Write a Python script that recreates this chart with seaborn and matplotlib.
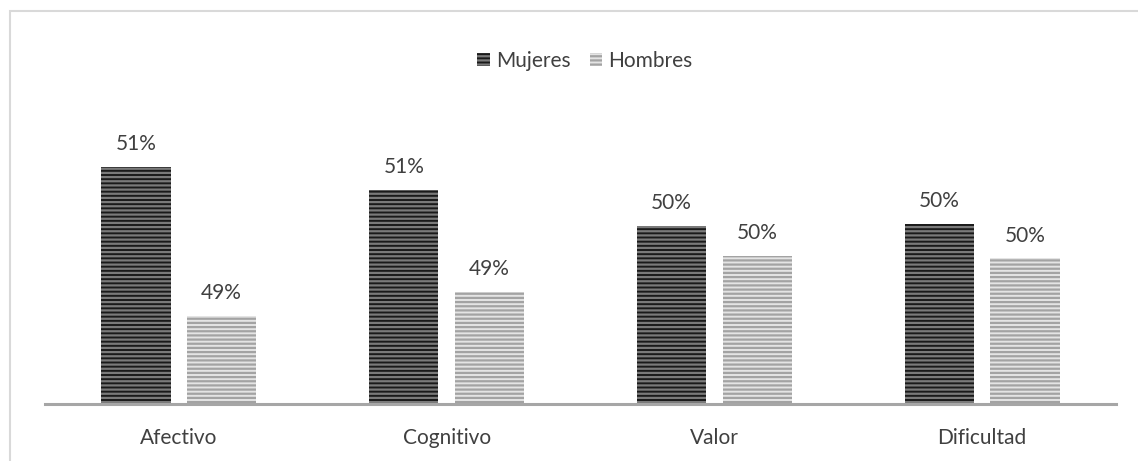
import matplotlib
matplotlib.use("Agg")
import matplotlib.pyplot as plt
from matplotlib.patches import Patch, Rectangle
import seaborn as sns
import pandas as pd

categories = ["Afectivo", "Cognitivo", "Valor", "Dificultad"]
mujeres = [50.91, 50.63, 50.19, 50.21]
hombres = [49.08, 49.38, 49.82, 49.79]
series_names = ["Mujeres", "Hombres"]

df = pd.DataFrame({
    "cat": categories * 2,
    "val": mujeres + hombres,
    "serie": [series_names[0]] * 4 + [series_names[1]] * 4,
})

sns.set_theme(style="white")
plt.rcParams["font.family"] = ["Lato", "DejaVu Sans"]
plt.rcParams["hatch.linewidth"] = 1.6

W, H = 1138, 461
fig = plt.figure(figsize=(W / 100, H / 100), dpi=100)
fig.patch.set_facecolor("white")
ax = fig.add_axes([45 / W, (H - 404) / H, (1116 - 45) / W, (404 - 100) / H])

face = {"Mujeres": "#1a1a1a", "Hombres": "#e4e4e4"}
hatchc = {"Mujeres": "#7a7a7a", "Hombres": "#a3a3a3"}
FS = 15

sns.barplot(data=df, x="cat", y="val", hue="serie", order=categories,
            hue_order=series_names, palette=face, width=0.64, gap=0.19,
            ax=ax, legend=False, saturation=1)

values = {"Mujeres": mujeres, "Hombres": hombres}
for name, cont in zip(series_names, ax.containers):
    for bar in cont:
        bar.set_facecolor(face[name])
        bar.set_edgecolor(hatchc[name])
        bar.set_hatch("----")
        bar.set_linewidth(0)
    ax.bar_label(cont, labels=[f"{round(v)}%" for v in values[name]],
                 padding=9, fontsize=FS, color="#404040")

ax.set_ylim(48, 51.73)
ax.set_xlim(-0.5, 3.5)
ax.set_xlabel("")
ax.set_ylabel("")
ax.set_yticks([])
for s in ["top", "right", "left"]:
    ax.spines[s].set_visible(False)
ax.spines["bottom"].set_color("#a6a6a6")
ax.spines["bottom"].set_linewidth(2.2)
ax.tick_params(axis="x", length=0, pad=17, labelsize=FS, labelcolor="#404040")

handles = [Patch(facecolor=face[n], edgecolor=hatchc[n], hatch="----", linewidth=0, label=n)
           for n in series_names]
fig.legend(handles=handles, loc="center", bbox_to_anchor=(585 / W, 1 - 61 / H),
           ncol=2, frameon=False, fontsize=FS, handlelength=0.6, handleheight=0.6,
           handletextpad=0.3, columnspacing=0.9, labelcolor="#404040")

border = Rectangle((10 / W, -0.1), 1.2, 1 - 11 / H + 0.1, transform=fig.transFigure,
                   fill=False, edgecolor="#d9d9d9", linewidth=1.5)
fig.add_artist(border)

fig.savefig("out.png", dpi=100)
